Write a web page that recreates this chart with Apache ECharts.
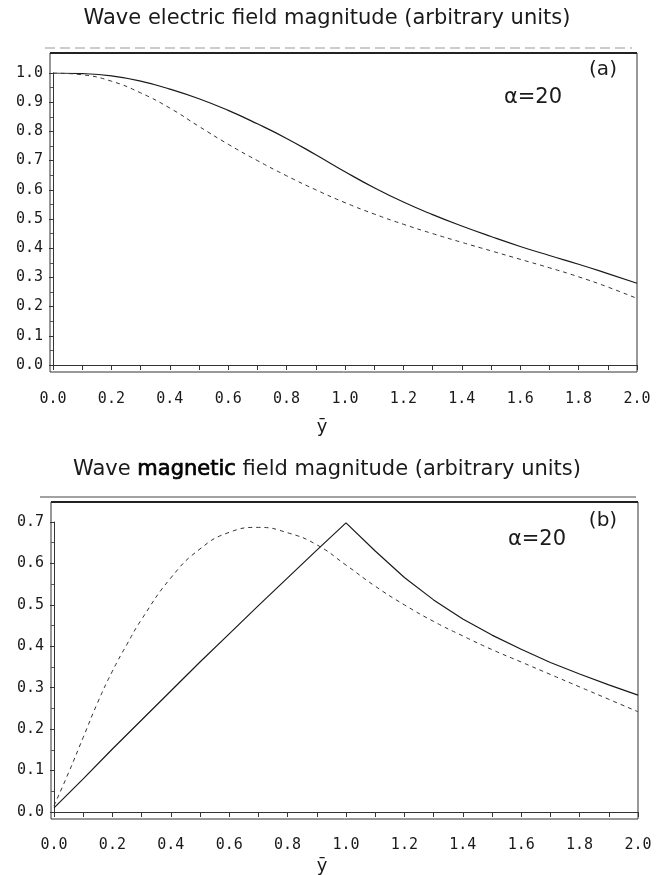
<!DOCTYPE html>
<html>
<head>
<meta charset="utf-8">
<title>Wave field magnitude</title>
<script src="https://cdn.jsdelivr.net/npm/echarts@6/dist/echarts.min.js"></script>
<style>
  html, body { margin: 0; padding: 0; background: #fff; }
  #chart { width: 665px; height: 875px; }
</style>
</head>
<body>
<div id="chart"></div>
<script>
// 橫軸 ȳ 取樣點
const yBar = [0.0, 0.1, 0.2, 0.3, 0.4, 0.5, 0.6, 0.7, 0.8, 0.9, 1.0,
              1.1, 1.2, 1.3, 1.4, 1.5, 1.6, 1.7, 1.8, 1.9, 2.0];

// (a) 電場強度
const eSolid  = [1.0, 0.998, 0.99, 0.972, 0.945, 0.912, 0.872, 0.826, 0.776, 0.72, 0.662,
                 0.607, 0.558, 0.515, 0.476, 0.44, 0.406, 0.375, 0.345, 0.313, 0.28];
const eDashed = [1.0, 0.994, 0.972, 0.932, 0.88, 0.817, 0.756, 0.7, 0.648, 0.6, 0.556,
                 0.517, 0.482, 0.45, 0.42, 0.391, 0.362, 0.333, 0.302, 0.267, 0.228];

// (b) 磁場強度
const bSolid  = [0.01, 0.08, 0.152, 0.222, 0.292, 0.362, 0.43, 0.498, 0.565, 0.632, 0.698,
                 0.63, 0.566, 0.512, 0.466, 0.427, 0.393, 0.361, 0.333, 0.307, 0.282];
const yBarFine = [0.0, 0.05, 0.1, 0.15, 0.2, 0.25, 0.3, 0.4, 0.5, 0.6, 0.7, 0.8, 0.9, 1.0,
                  1.1, 1.2, 1.3, 1.4, 1.5, 1.6, 1.7, 1.8, 1.9, 2.0];
const bDashed = [0.015, 0.095, 0.18, 0.265, 0.34, 0.405, 0.465, 0.565, 0.635, 0.675, 0.687, 0.674, 0.645, 0.596,
                 0.545, 0.5, 0.46, 0.425, 0.392, 0.362, 0.332, 0.302, 0.272, 0.242];

const pairs = (xs, ys) => xs.map((x, i) => [x, ys[i]]);

const monoFont = '"DejaVu Sans Mono", "Liberation Mono", monospace';
const textFont = '"DejaVu Sans", sans-serif';
const ink = '#1a1a1a';

function xAxisFor(gridIndex, margin) {
  return {
    type: 'value', gridIndex: gridIndex,
    min: 0, max: 2, interval: 0.2, offset: 7,
    axisLine: { show: true, lineStyle: { color: '#333', width: 1 } },
    axisTick: { show: true, length: 5, lineStyle: { color: '#333' } },
    minorTick: { show: true, splitNumber: 2, length: 5, lineStyle: { color: '#333' } },
    splitLine: { show: false },
    minorSplitLine: { show: false },
    axisLabel: {
      margin: margin, fontFamily: monoFont, fontSize: 15, color: ink,
      formatter: v => v.toFixed(1)
    }
  };
}

function yAxisFor(gridIndex, max) {
  return {
    type: 'value', gridIndex: gridIndex,
    min: 0, max: max, interval: 0.1, offset: 3,
    axisLine: { show: true, lineStyle: { color: '#333', width: 1 } },
    axisTick: { show: true, length: 4, lineStyle: { color: '#333' } },
    minorTick: { show: true, splitNumber: 2, length: 3, lineStyle: { color: '#555' } },
    splitLine: { show: false },
    minorSplitLine: { show: false },
    axisLabel: {
      margin: 7, fontFamily: monoFont, fontSize: 15, color: ink,
      formatter: v => v.toFixed(1)
    }
  };
}

function curve(gridIndex, xs, ys, dashed, smooth) {
  return {
    type: 'line', xAxisIndex: gridIndex, yAxisIndex: gridIndex,
    data: pairs(xs, ys),
    showSymbol: false, symbol: 'none', smooth: smooth,
    lineStyle: dashed
      ? { color: '#333', width: 1, type: [4, 4] }
      : { color: ink, width: 1.2 }
  };
}

function label(text, x, y, size, rich) {
  return {
    type: 'text', silent: true,
    style: {
      text: text, x: x, y: y, fill: ink,
      font: size + 'px ' + textFont,
      rich: rich,
      textAlign: 'center', textVerticalAlign: 'middle'
    }
  };
}

const chart = echarts.init(document.getElementById('chart'));

chart.setOption({
  backgroundColor: '#fff',
  animation: false,
  grid: [
    { left: 53, right: 28, top: 73, height: 292 },
    { left: 54, right: 27, top: 522, height: 290 }
  ],
  xAxis: [xAxisFor(0, 20), xAxisFor(1, 19)],
  yAxis: [yAxisFor(0, 1), yAxisFor(1, 0.7)],
  series: [
    curve(0, yBar, eSolid, false, true),
    curve(0, yBar, eDashed, true, true),
    curve(1, yBar, bSolid, false, false),
    curve(1, yBarFine, bDashed, true, true)
  ],
  graphic: [
    // 外框
    { type: 'rect', silent: true, shape: { x: 50, y: 53, width: 587, height: 319 },
      style: { fill: 'none', stroke: '#333', lineWidth: 1 } },
    { type: 'line', silent: true, shape: { x1: 50, y1: 53, x2: 637, y2: 53 },
      style: { stroke: '#222', lineWidth: 2 } },
    { type: 'line', silent: true, shape: { x1: 45, y1: 48, x2: 632, y2: 48 },
      style: { stroke: '#999', lineWidth: 1, lineDash: [10, 5] } },
    { type: 'rect', silent: true, shape: { x: 51, y: 502, width: 587, height: 317 },
      style: { fill: 'none', stroke: '#333', lineWidth: 1 } },
    { type: 'line', silent: true, shape: { x1: 51, y1: 502, x2: 638, y2: 502 },
      style: { stroke: '#222', lineWidth: 2 } },
    { type: 'line', silent: true, shape: { x1: 40, y1: 497, x2: 636, y2: 497 },
      style: { stroke: '#444', lineWidth: 1 } },

    // 標題
    label('Wave electric field magnitude (arbitrary units)', 327, 19, 21),
    label('Wave {b|magnetic} field magnitude (arbitrary units)', 327, 470, 21,
      { b: { font: '21px ' + textFont, fill: '#000', stroke: '#000', lineWidth: 0.7 } }),

    // 註記
    label('(a)', 603, 70, 20),
    label('α=20', 533, 98, 21),
    label('(b)', 603, 521, 20),
    label('α=20', 537, 540, 21),

    // 橫軸名稱
    label('ȳ', 322, 427, 18),
    label('ȳ', 322, 866, 18)
  ]
});
</script>
</body>
</html>
